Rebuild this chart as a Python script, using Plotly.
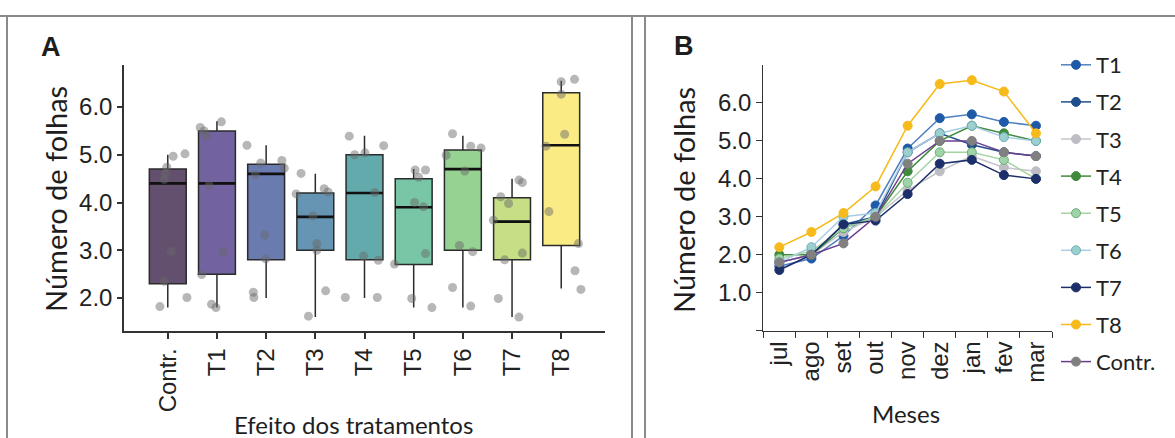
import plotly.graph_objects as go

W, H = 1175, 438

# ---------------- Panel A data (boxplots) ----------------
treatments = ["Contr.", "T1", "T2", "T3", "T4", "T5", "T6", "T7", "T8"]
box_lower = [1.8, 1.8, 2.0, 1.6, 2.0, 1.8, 1.8, 1.6, 2.2]
box_q1 = [2.3, 2.5, 2.8, 3.0, 2.8, 2.7, 3.0, 2.8, 3.1]
box_median = [4.4, 4.4, 4.6, 3.7, 4.2, 3.9, 4.7, 3.6, 5.2]
box_q3 = [4.7, 5.5, 4.8, 4.2, 5.0, 4.5, 5.1, 4.1, 6.3]
box_upper = [5.0, 5.7, 5.2, 4.6, 5.4, 4.7, 5.4, 4.5, 6.55]
box_colors = ["#63506f", "#7262a0", "#6a7bb0", "#6595b2", "#63aaac",
              "#79c6a6", "#96d292", "#c6de84", "#fbeb84"]

points = {
    "Contr.": [4.97, 5.02, 4.74, 4.60, 4.48, 2.98, 2.35, 1.82, 2.01],
    "T1": [5.69, 5.57, 5.50, 5.39, 4.36, 2.98, 2.49, 1.87, 1.80],
    "T2": [5.20, 4.83, 4.88, 4.72, 4.58, 3.32, 2.82, 2.12, 2.01],
    "T3": [4.61, 4.18, 4.29, 4.22, 3.72, 3.14, 3.00, 2.15, 1.62],
    "T4": [5.39, 5.00, 5.04, 5.19, 4.21, 2.88, 2.79, 2.01, 2.01],
    "T5": [4.68, 4.68, 4.53, 4.00, 3.91, 2.93, 2.71, 1.99, 1.80],
    "T6": [5.44, 5.18, 5.14, 4.99, 4.66, 3.10, 2.97, 2.22, 1.83],
    "T7": [4.47, 4.42, 4.12, 3.98, 3.63, 2.94, 2.80, 1.99, 1.60],
    "T8": [6.53, 6.58, 6.27, 5.43, 5.18, 3.81, 3.14, 2.57, 2.18],
}
# horizontal jitter of each point (in category units)
jitter = {
    "Contr.": [0.11, 0.35, -0.02, -0.05, -0.07, 0.07, -0.07, -0.16, 0.39],
    "T1": [0.09, -0.34, -0.26, -0.22, -0.16, 0.12, -0.31, -0.11, -0.02],
    "T2": [-0.39, -0.11, 0.32, 0.37, -0.22, -0.03, -0.01, -0.26, -0.25],
    "T3": [-0.29, -0.39, 0.18, 0.26, -0.05, 0.03, 0.03, 0.21, -0.14],
    "T4": [-0.31, -0.20, 0.01, 0.39, 0.21, -0.02, 0.28, -0.39, 0.26],
    "T5": [0.03, 0.24, 0.10, 0.02, 0.20, 0.24, -0.39, -0.04, 0.37],
    "T6": [-0.21, 0.16, 0.37, -0.34, 0.04, -0.07, 0.20, -0.21, 0.16],
    "T7": [0.14, 0.21, -0.23, -0.07, -0.38, 0.21, -0.15, -0.28, 0.14],
    "T8": [0.00, 0.27, 0.00, 0.07, -0.31, -0.25, 0.35, 0.28, 0.40],
}
a_yticks = [2.0, 3.0, 4.0, 5.0, 6.0]

# ---------------- Panel B data (monthly lines) ----------------
months = ["jul", "ago", "set", "out", "nov", "dez", "jan", "fev", "mar"]
series_names = ["T1", "T2", "T3", "T4", "T5", "T6", "T7", "T8", "Contr."]
T1 = [1.7, 1.9, 2.5, 3.3, 4.8, 5.6, 5.7, 5.5, 5.4]
T2 = [1.8, 2.0, 2.8, 3.0, 4.7, 5.2, 4.9, 4.7, 4.6]
T3 = [1.8, 2.0, 2.6, 3.0, 3.7, 4.2, 4.6, 4.3, 4.2]
T4 = [2.0, 2.0, 2.7, 3.0, 4.2, 5.0, 5.4, 5.2, 5.0]
T5 = [1.9, 2.1, 2.7, 3.0, 3.9, 4.7, 4.7, 4.5, 4.0]
T6 = [1.8, 2.2, 3.0, 3.1, 4.7, 5.2, 5.4, 5.1, 5.0]
T7 = [1.6, 2.0, 2.8, 2.9, 3.6, 4.4, 4.5, 4.1, 4.0]
T8 = [2.2, 2.6, 3.1, 3.8, 5.4, 6.5, 6.6, 6.3, 5.2]
Contr = [1.8, 2.0, 2.3, 3.0, 4.4, 5.0, 5.0, 4.7, 4.6]
series_values = [T1, T2, T3, T4, T5, T6, T7, T8, Contr]
line_colors = ["#4f80c0", "#1f4e8c", "#c4c4ca", "#3f8a3c", "#a4d4a4",
               "#a9cce6", "#1c2f6a", "#f6ba1a", "#6a3f8e"]
marker_colors = ["#1f5aa8", "#1f4e8c", "#bdbdc3", "#3f8a3c", "#9fd4a8",
                 "#9ccfcf", "#1c2f6a", "#f6ba1a", "#808080"]
marker_edges = ["#1f5aa8", "#1f4e8c", "#bdbdc3", "#3f8a3c", "#6bae78",
                "#6fafb5", "#1c2f6a", "#f6ba1a", "#808080"]
b_yticks = [0, 1, 2, 3, 4, 5, 6]
b_yticktext = ["", "1.0", "2.0", "3.0", "4.0", "5.0", "6.0"]

TICKFONT = "Liberation Sans, Arial, sans-serif"
TITLEFONT = "Lato, Open Sans, sans-serif"

fig = go.Figure()

# Panel A boxes
BOXW = 0.75
for i, cat in enumerate(treatments):
    fig.add_trace(go.Box(
        x=[i], q1=[box_q1[i]], median=[box_median[i]], q3=[box_q3[i]],
        lowerfence=[box_lower[i]], upperfence=[box_upper[i]],
        width=BOXW, whiskerwidth=0, fillcolor=box_colors[i],
        line=dict(color="#2b2b2b", width=1.5), boxpoints=False,
        showlegend=False, hoverinfo="skip", xaxis="x", yaxis="y"))
    # thicker median line
    fig.add_trace(go.Scatter(
        x=[i - BOXW / 2, i + BOXW / 2], y=[box_median[i], box_median[i]],
        mode="lines", line=dict(color="#111111", width=2.6),
        showlegend=False, hoverinfo="skip", xaxis="x", yaxis="y"))

px_, py_ = [], []
for i, cat in enumerate(treatments):
    for v, j in zip(points[cat], jitter[cat]):
        px_.append(i + j)
        py_.append(v)
fig.add_trace(go.Scatter(
    x=px_, y=py_, mode="markers",
    marker=dict(size=9, color="rgba(105,105,105,0.48)", line=dict(width=0)),
    showlegend=False, hoverinfo="skip", xaxis="x", yaxis="y"))

# Panel B lines
for k, name in enumerate(series_names):
    fig.add_trace(go.Scatter(
        x=months, y=series_values[k], mode="lines+markers", name=name,
        legendgroup=name,
        line=dict(color=line_colors[k], width=1.5),
        marker=dict(size=9, color=marker_colors[k],
                    line=dict(color=marker_edges[k], width=1)),
        xaxis="x2", yaxis="y2"))

def fx(p):
    return p / W

def fy(p):
    return 1 - p / H

axis_common = dict(showline=True, linecolor="#333333", ticks="outside",
                   tickcolor="#333333", showgrid=False, zeroline=False,
                   tickfont=dict(family=TICKFONT, size=24, color="#222222"))

fig.update_layout(
    width=W, height=H, margin=dict(l=0, r=0, t=0, b=0),
    paper_bgcolor="white", plot_bgcolor="white",
    xaxis=dict(domain=[fx(124), fx(605)], range=[-0.89, 8.89],
               tickmode="array", tickvals=list(range(len(treatments))),
               ticktext=treatments, tickangle=-90, ticklen=6, linewidth=1.5,
               tickwidth=1.5, anchor="y", **axis_common),
    yaxis=dict(domain=[fy(331), fy(65)], range=[1.309, 6.88],
               tickmode="array", tickvals=a_yticks,
               ticktext=[f"{t:.1f}" for t in a_yticks], ticklen=5,
               linewidth=1.5, tickwidth=1.5, anchor="x", **axis_common),
    xaxis2=dict(domain=[fx(763.3), fx(1052)], range=[-0.5, 8.5],
                type="category", categoryorder="array", categoryarray=months,
                tickson="boundaries", tickangle=-90, ticklen=6, linewidth=1.2,
                tickwidth=1.2, anchor="y2", **axis_common),
    yaxis2=dict(domain=[fy(330.7), fy(65)], range=[0, 7],
                tickmode="array", tickvals=b_yticks, ticktext=b_yticktext,
                ticklen=6, linewidth=1.2, tickwidth=1.2, anchor="x2",
                **axis_common),
    legend=dict(x=fx(1056), y=fy(44), xanchor="left", yanchor="top",
                font=dict(family=TITLEFONT, size=22, color="#222222"),
                tracegroupgap=5.5, itemwidth=30, bgcolor="rgba(0,0,0,0)"),
    showlegend=True,
)

border = dict(color="#8a8a8a", width=2)
fig.add_shape(type="line", xref="paper", yref="paper", x0=0, x1=1,
              y0=fy(16), y1=fy(16), line=border)
for xpx in [7, 632, 645]:
    fig.add_shape(type="line", xref="paper", yref="paper", x0=fx(xpx),
                  x1=fx(xpx), y0=fy(16), y1=0, line=border)

def label(text, xp, yp, size, family, angle=0):
    return dict(text=text, x=fx(xp), y=fy(yp), xref="paper", yref="paper",
                xanchor="center", yanchor="middle", textangle=angle,
                showarrow=False, font=dict(family=family, size=size, color="#1e1e1e"))

ann = [
    label("<b>A</b>", 51, 47, 27, TICKFONT),
    label("<b>B</b>", 684, 46, 27, TICKFONT),
    label("Número de folhas", 55, 199, 29, TITLEFONT, -90),
    label("Número de folhas", 683, 200, 29, TITLEFONT, -90),
    label("Efeito dos tratamentos", 353, 424, 24, TITLEFONT),
    label("Meses", 906, 413, 24, TITLEFONT),
]
fig.update_layout(annotations=ann)

fig.write_html("out.html", config={"displayModeBar": False},
               post_script="document.body.style.margin='0';")
